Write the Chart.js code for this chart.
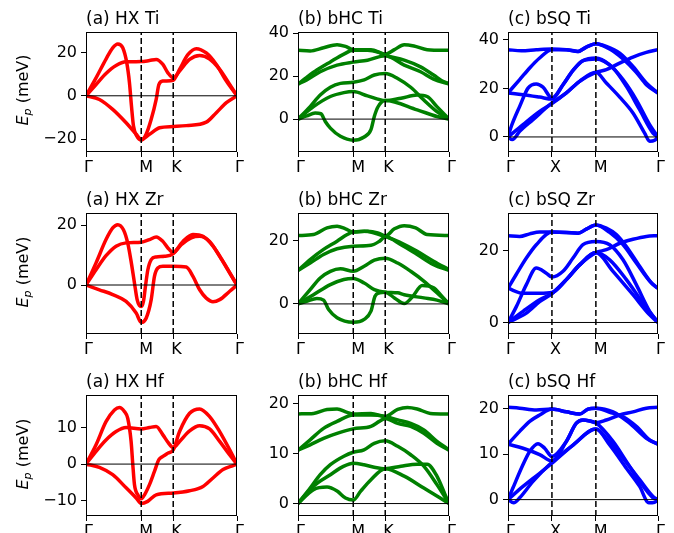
<!DOCTYPE html>
<html><head><meta charset="utf-8">
<script src="https://cdn.jsdelivr.net/npm/chart.js@4.4.1/dist/chart.umd.min.js"></script>
<style>
html,body{margin:0;padding:0;background:#fff;}
body{width:674px;height:533px;overflow:hidden;position:relative;font-family:'DejaVu Sans',sans-serif;}
.yl{position:absolute;width:120px;height:20px;line-height:20px;font-size:16px;text-align:center;transform:rotate(-90deg);white-space:nowrap;color:#000;font-family:'DejaVu Sans',sans-serif;}
.yl i{font-style:italic;}
.yl sub{font-size:11px;vertical-align:-3px;line-height:0;}
</style></head><body>
<script>
// ---- k-paths and tick labels ----
const hxPath = [0, 0.577, 0.911, 1.577];
const hxLabels = ['Γ', 'M', 'K', 'Γ'];
const sqPath = [0, 0.5, 1.0, 1.707];
const sqLabels = ['Γ', 'X', 'M', 'Γ'];

// ---- axis limits and ticks ----
const hxTiY = [-26, 29.5],  hxTiTicks = [-20, 0, 20];
const bhcTiY = [-15.3, 40.5], bhcTiTicks = [0, 20, 40];
const bsqTiY = [-6.2, 43.2], bsqTiTicks = [0, 20, 40];
const hxZrY = [-16.4, 24.1], hxZrTicks = [0, 20];
const bhcZrY = [-9.5, 28.7], bhcZrTicks = [0, 20];
const bsqZrY = [-3.2, 30.4], bsqZrTicks = [0, 20];
const hxHfY = [-14.2, 18.9], hxHfTicks = [-10, 0, 10];
const bhcHfY = [-2.5, 21.8], bhcHfTicks = [0, 10, 20];
const bsqHfY = [-3.6, 23], bsqHfTicks = [0, 10, 20];

// ---- phonon bands: [k, E_p (meV)] ----
const hxTi = [
 [[0,0],[0.105,8.3],[0.209,17],[0.279,22.2],[0.332,24],[0.384,22.2],[0.426,15.2],[0.454,6],[0.475,-4.8],[0.496,-14],[0.530,-18.6],[0.577,-20.5],[0.628,-17.8],[0.681,-10.9],[0.733,-1.7],[0.761,5.2],[0.803,6.8],[0.911,7.2],[0.977,12.2],[1.064,19],[1.152,21.8],[1.256,19.8],[1.361,14.5],[1.466,6.8],[1.577,0]],
 [[0,0],[0.105,5.2],[0.209,10.3],[0.314,14],[0.419,15.7],[0.577,15.8],[0.663,16.3],[0.733,16.8],[0.803,14.5],[0.855,10.6],[0.911,8.3],[0.977,11.4],[1.082,16.8],[1.187,18.6],[1.291,17],[1.396,12.2],[1.501,5.2],[1.577,0]],
 [[0,0],[0.140,-1.7],[0.279,-6.3],[0.419,-12.5],[0.524,-17.8],[0.577,-20.2],[0.663,-17.8],[0.768,-14.8],[0.911,-14.2],[1.047,-13.8],[1.256,-12.2],[1.361,-7.8],[1.466,-3.2],[1.577,0]]
];
const bhcTi = [
 [[0,0],[0.091,1.5],[0.179,2.8],[0.239,2.5],[0.285,-1.1],[0.338,-4.2],[0.443,-8],[0.577,-9.8],[0.691,-8.3],[0.762,-4.9],[0.797,1.2],[0.833,5.5],[0.911,8.6],[1.245,4.3],[1.451,1.2],[1.577,0]],
 [[0,0],[0.162,5.8],[0.338,10.5],[0.479,12.3],[0.577,12.8],[0.726,10.8],[0.911,8.6],[1.075,9.7],[1.245,11.2],[1.349,10.5],[1.451,5.8],[1.577,0]],
 [[0,0],[0.127,5.8],[0.232,11.2],[0.338,14.8],[0.443,16.6],[0.577,17.1],[0.691,18.2],[0.797,20.5],[0.911,21.2],[1.041,18.9],[1.177,14.8],[1.314,8.9],[1.451,3.5],[1.577,0]],
 [[0,16.3],[0.091,18.2],[0.232,22],[0.408,25.1],[0.577,26.5],[0.726,27.4],[0.911,29.5],[1.109,25.1],[1.280,22],[1.416,18.6],[1.577,16.3]],
 [[0,16.3],[0.091,19.4],[0.197,22.8],[0.338,26.6],[0.479,30.2],[0.577,32],[0.726,32],[0.833,31.2],[0.911,29.7],[1.109,27.4],[1.280,24.3],[1.416,20.5],[1.519,17.4],[1.577,16.6]],
 [[0,32],[0.127,31.7],[0.267,33.2],[0.408,34.6],[0.496,33.8],[0.577,32.3],[0.762,32.3],[0.911,30.2],[1.007,32.3],[1.109,34.6],[1.211,34],[1.349,32.3],[1.577,32]]
];
const bsqTi = [
 [[0,35.9],[0.152,35.5],[0.322,35.9],[0.5,36.2],[0.664,35.9],[0.797,35.2],[0.891,37],[1.0,38.4],[1.119,37.3],[1.271,34.5],[1.422,29],[1.574,22.2],[1.707,18.1]],
 [[0,18.1],[0.133,23.6],[0.247,28.4],[0.360,32.5],[0.5,35.9],[0.664,35.9],[0.797,35.2],[0.891,37],[1.0,38.4],[1.157,36.2],[1.309,32.1],[1.460,26.6],[1.574,21.5],[1.707,18.1]],
 [[0,18.1],[0.171,17.4],[0.360,16.4],[0.5,15.6],[0.626,21.5],[0.740,27.4],[0.853,31.4],[1.0,32.5],[1.157,29.7],[1.309,23.6],[1.460,15.3],[1.612,5.1],[1.707,0]],
 [[0,0],[0.038,4.4],[0.133,12.6],[0.228,20.1],[0.322,21.8],[0.398,20.5],[0.5,16],[0.626,21.5],[0.740,27.4],[0.853,31.4],[1.0,32.1],[1.195,28.4],[1.347,20.8],[1.498,11.2],[1.650,1.6],[1.707,0]],
 [[0,0],[0.049,-1.1],[0.133,2.3],[0.284,7.1],[0.5,14],[0.664,18.1],[0.815,22.9],[1.0,26.6],[1.119,22.2],[1.271,16.4],[1.422,9.9],[1.555,1.6],[1.612,-1.8],[1.669,-1.4],[1.707,0]],
 [[0,0],[0.171,5.1],[0.360,10.5],[0.5,13.7],[0.664,18.1],[0.815,22.9],[1.0,26.6],[1.119,27.7],[1.271,30.4],[1.422,32.9],[1.574,34.8],[1.707,35.9]]
];
const hxZr = [
 [[0,0],[0.105,7.4],[0.209,15.2],[0.279,19.1],[0.332,20.2],[0.391,18.5],[0.436,14],[0.471,7.9],[0.506,0.7],[0.534,-4.9],[0.558,-6.9],[0.577,-7.2],[0.600,-5.5],[0.621,-0.4],[0.646,5.1],[0.681,8.5],[0.733,9.4],[0.820,9.6],[0.911,10.5],[1.012,14.6],[1.117,16.9],[1.222,16.3],[1.326,13],[1.431,7.9],[1.577,0]],
 [[0,0],[0.105,5.1],[0.209,9.8],[0.314,13],[0.419,14.1],[0.577,14.3],[0.663,15.2],[0.733,16.1],[0.803,14.6],[0.855,12.4],[0.911,10.9],[0.995,13.5],[1.099,15.8],[1.187,16.3],[1.291,14.6],[1.396,9.6],[1.501,4],[1.577,0]],
 [[0,0],[0.140,-1.6],[0.279,-3.2],[0.419,-5.5],[0.524,-9.4],[0.577,-12.5],[0.628,-11.1],[0.681,-4.9],[0.715,2.9],[0.750,5.7],[0.803,6.3],[0.911,6.3],[1.047,6],[1.117,2.9],[1.187,-1.6],[1.256,-4.4],[1.326,-5.6],[1.396,-4.9],[1.501,-2.1],[1.577,0]]
];
const bhcZr = [
 [[0,0],[0.091,0.8],[0.197,1.7],[0.267,1.2],[0.320,-1.8],[0.408,-4.4],[0.577,-5.8],[0.691,-4.9],[0.762,-2.3],[0.804,2.4],[0.851,3.5],[0.911,3.7],[1.007,1.9],[1.109,0.1],[1.194,2.2],[1.297,5.8],[1.416,5.1],[1.502,2.4],[1.577,0]],
 [[0,0],[0.162,2.9],[0.338,6.1],[0.479,7.7],[0.577,8],[0.691,6.6],[0.797,4.5],[0.911,3.7],[1.041,3.5],[1.109,2.9],[1.314,1.9],[1.451,1.2],[1.577,0]],
 [[0,0],[0.127,4.5],[0.232,8.2],[0.338,10.3],[0.443,11.1],[0.577,10.3],[0.691,11.9],[0.797,13.8],[0.911,14.4],[1.041,12.9],[1.177,10.3],[1.314,7.2],[1.451,3.5],[1.577,0]],
 [[0,10.6],[0.127,12.9],[0.267,15.6],[0.408,17.4],[0.577,18.2],[0.762,18.5],[0.851,19.8],[0.911,21.2],[1.075,18.7],[1.245,15.6],[1.416,12.4],[1.577,10.6]],
 [[0,10.6],[0.127,14],[0.267,17.2],[0.408,19.8],[0.514,21.9],[0.577,22.7],[0.726,22.9],[0.833,22.4],[0.911,21.4],[1.075,19.3],[1.245,16.6],[1.416,13.5],[1.577,10.8]],
 [[0,21.6],[0.162,21.9],[0.303,24],[0.408,24.5],[0.496,23.7],[0.577,22.7],[0.691,22.9],[0.797,22.4],[0.911,21.4],[1.007,23.7],[1.109,24.7],[1.229,24],[1.349,21.9],[1.577,21.6]]
];
const bsqZr = [
 [[0,24.1],[0.133,23.9],[0.247,24.6],[0.360,25.1],[0.5,25.1],[0.664,25],[0.797,24.8],[0.891,25.9],[1.0,27.1],[1.119,26.2],[1.233,24.4],[1.347,21.1],[1.498,15.6],[1.650,10.5],[1.707,9.5]],
 [[0,9.5],[0.095,13.4],[0.209,17.9],[0.322,21.6],[0.5,25.1],[0.664,25],[0.797,24.8],[0.891,25.9],[1.0,27.1],[1.157,25],[1.309,21.6],[1.460,16.5],[1.612,11.5],[1.707,9.5]],
 [[0,0],[0.095,4.4],[0.209,10.5],[0.322,15.1],[0.436,13.7],[0.5,12.6],[0.626,14.2],[0.740,17.9],[0.853,21.6],[1.0,22.5],[1.157,21.6],[1.309,17.4],[1.460,10.5],[1.612,3.1],[1.707,0]],
 [[0,9.5],[0.171,8.1],[0.360,8.1],[0.5,8.3],[0.664,11.9],[0.815,16],[1.0,19.4],[1.195,14.2],[1.422,7.7],[1.612,2.1],[1.707,0]],
 [[0,0],[0.171,3.1],[0.360,6.3],[0.5,8.1],[0.664,11.9],[0.815,16],[1.0,19.4],[1.119,20.2],[1.271,22],[1.422,23.1],[1.574,23.9],[1.707,24.1]],
 [[0,0],[0.209,2.6],[0.360,5.8],[0.5,8],[0.664,11.9],[0.815,16],[1.0,19.4],[1.157,17.4],[1.347,11.9],[1.536,5.4],[1.707,0]]
];
const hxHf = [
 [[0,0],[0.105,5.3],[0.209,11.6],[0.297,14.8],[0.349,15.5],[0.401,14.4],[0.436,12.5],[0.471,6.2],[0.489,-0.2],[0.506,-5.6],[0.541,-8.4],[0.577,-9.5],[0.611,-8.4],[0.663,-5.6],[0.715,-2],[0.761,1.2],[0.803,2.1],[0.855,3],[0.911,3.9],[0.977,8.9],[1.082,13.9],[1.187,15.1],[1.291,13],[1.396,8.9],[1.501,3.9],[1.577,0]],
 [[0,0],[0.105,3.5],[0.209,6.6],[0.314,8.9],[0.419,10],[0.577,9.6],[0.663,10],[0.733,10.3],[0.803,8],[0.855,6],[0.911,4.5],[0.977,6.2],[1.082,9.1],[1.187,10.5],[1.291,9.6],[1.396,6.2],[1.501,2.5],[1.577,0]],
 [[0,0],[0.140,-0.9],[0.279,-2.9],[0.419,-6.5],[0.524,-9.3],[0.577,-10.8],[0.644,-10.2],[0.733,-8.4],[0.911,-7.9],[1.082,-7.3],[1.222,-6.1],[1.326,-3.8],[1.431,-1.5],[1.536,-0.4],[1.577,0]]
];
const bhcHf = [
 [[0,0],[0.162,2.8],[0.303,3.3],[0.408,2.5],[0.496,1.1],[0.577,0.7],[0.655,2.5],[0.762,4.8],[0.911,7],[1.109,5.5],[1.314,3.1],[1.485,1.1],[1.577,0]],
 [[0,0],[0.162,3.5],[0.338,5.8],[0.479,7.5],[0.577,8.1],[0.689,7.8],[0.796,7.3],[0.911,7],[1.075,7.5],[1.245,7.9],[1.349,7.9],[1.451,5.5],[1.536,1.8],[1.577,0]],
 [[0,0],[0.127,3.1],[0.232,5.8],[0.338,7.8],[0.479,9.5],[0.577,10.3],[0.689,10.8],[0.796,12.1],[0.911,12.6],[1.041,11.5],[1.177,9.8],[1.314,7.5],[1.451,3.8],[1.577,0]],
 [[0,10.7],[0.127,11.8],[0.267,13.1],[0.408,14.1],[0.577,15],[0.762,15.5],[0.849,16.5],[0.911,17.1],[1.041,16.1],[1.177,15.5],[1.314,14.1],[1.451,12.1],[1.577,10.7]],
 [[0,10.7],[0.127,12.8],[0.267,15.1],[0.408,16.5],[0.577,17.8],[0.762,17.8],[0.911,17.5],[1.041,16.8],[1.177,16.1],[1.314,14.8],[1.451,12.5],[1.577,10.8]],
 [[0,18],[0.162,18.1],[0.303,18.9],[0.408,19],[0.514,18.3],[0.577,18],[0.762,18.1],[0.911,17.5],[1.041,18.9],[1.143,19.3],[1.245,19],[1.382,18.1],[1.577,18]]
];
const bsqHf = [
 [[0,20.3],[0.133,20.1],[0.322,19.7],[0.5,19.9],[0.664,19.3],[0.815,18.8],[0.910,19.9],[1.0,20.1],[1.195,19.3],[1.384,16.8],[1.574,13.5],[1.707,12.2]],
 [[0,12.2],[0.133,15],[0.247,17.2],[0.360,18.6],[0.5,19.9],[0.664,19.3],[0.815,18.8],[0.910,19.9],[1.0,20.1],[1.157,19.2],[1.309,18.2],[1.460,16.1],[1.612,13.1],[1.707,12.2]],
 [[0,12.2],[0.171,11.3],[0.360,9.9],[0.5,8.5],[0.664,12.8],[0.778,16.8],[0.853,17.5],[0.929,17.3],[1.0,16.9],[1.119,17.5],[1.271,18.6],[1.422,19.3],[1.574,20.1],[1.707,20.3]],
 [[0,0],[0.057,2.6],[0.152,6.9],[0.247,10.6],[0.341,12.3],[0.417,11.3],[0.5,9.5],[0.664,12.8],[0.778,16.8],[0.853,17.5],[0.929,17.3],[1.0,16.9],[1.195,12.8],[1.347,8.4],[1.498,4],[1.650,0.4],[1.707,0]],
 [[0,0],[0.065,-0.7],[0.133,0.4],[0.284,4],[0.5,8.2],[0.740,12],[1.0,15.5],[1.157,12],[1.347,6.9],[1.498,2.9],[1.603,-0.7],[1.669,-0.6],[1.707,0]],
 [[0,0],[0.171,2.9],[0.360,5.8],[0.5,8],[0.740,12],[1.0,15.5],[1.119,13.5],[1.309,9.1],[1.498,4.4],[1.650,0.7],[1.707,0]]
];

// ---- layout (pixels) ----
const colL = [86, 298, 508], colW = [151, 151, 150];
const rowT = [32, 213, 395], rowH = [120, 121, 121];
const RED = '#ff0000', GREEN = '#008000', BLUE = '#0000ff';

const panels = [
 {row:0,col:0,title:'(a) HX Ti', bands:hxTi, path:hxPath, labels:hxLabels, ylim:hxTiY, yticks:hxTiTicks, color:RED},
 {row:0,col:1,title:'(b) bHC Ti', bands:bhcTi, path:hxPath, labels:hxLabels, ylim:bhcTiY, yticks:bhcTiTicks, color:GREEN},
 {row:0,col:2,title:'(c) bSQ Ti', bands:bsqTi, path:sqPath, labels:sqLabels, ylim:bsqTiY, yticks:bsqTiTicks, color:BLUE},
 {row:1,col:0,title:'(a) HX Zr', bands:hxZr, path:hxPath, labels:hxLabels, ylim:hxZrY, yticks:hxZrTicks, color:RED},
 {row:1,col:1,title:'(b) bHC Zr', bands:bhcZr, path:hxPath, labels:hxLabels, ylim:bhcZrY, yticks:bhcZrTicks, color:GREEN},
 {row:1,col:2,title:'(c) bSQ Zr', bands:bsqZr, path:sqPath, labels:sqLabels, ylim:bsqZrY, yticks:bsqZrTicks, color:BLUE},
 {row:2,col:0,title:'(a) HX Hf', bands:hxHf, path:hxPath, labels:hxLabels, ylim:hxHfY, yticks:hxHfTicks, color:RED},
 {row:2,col:1,title:'(b) bHC Hf', bands:bhcHf, path:hxPath, labels:hxLabels, ylim:bhcHfY, yticks:bhcHfTicks, color:GREEN},
 {row:2,col:2,title:'(c) bSQ Hf', bands:bsqHf, path:sqPath, labels:sqLabels, ylim:bsqHfY, yticks:bsqHfTicks, color:BLUE}
];

const framePlugin = {
  id: 'frame',
  afterDatasetsDraw(chart, args, opts) {
    const {ctx, chartArea: a} = chart;
    ctx.save();
    ctx.strokeStyle = '#000';
    ctx.lineWidth = 1;
    ctx.setLineDash([]);
    ctx.strokeRect(a.left + 0.5, a.top + 0.5, a.right - a.left - 1, a.bottom - a.top - 1);
    ctx.fillStyle = '#000';
    ctx.font = '17px "DejaVu Sans"';
    ctx.textAlign = 'left';
    ctx.textBaseline = 'alphabetic';
    ctx.fillText(opts.title, a.left, a.top - 8);
    ctx.restore();
  }
};

const fmt = v => v < 0 ? '\u2212' + Math.abs(v) : String(v);

function makePanel(p) {
  const L = colL[p.col], W = colW[p.col], T = rowT[p.row], H = rowH[p.row];
  const padL = 80, padT = 30, padR = 16, padB = 30;
  const cv = document.createElement('canvas');
  const cw = padL + W + padR, ch = padT + H + padB;
  cv.width = cw; cv.height = ch;
  cv.style.cssText = 'position:absolute;left:' + (L - padL) + 'px;top:' + (T - padT) + 'px;width:' + cw + 'px;height:' + ch + 'px';
  document.body.appendChild(cv);
  const xmax = p.path[p.path.length - 1];
  const ds = [];
  ds.push({data:[{x:0,y:0},{x:xmax,y:0}], borderColor:'#000', borderWidth:1, order:0});
  [p.path[1], p.path[2]].forEach(v => ds.push({data:[{x:v,y:p.ylim[0]},{x:v,y:p.ylim[1]}], borderColor:'#000', borderWidth:1.5, borderDash:[6,3], order:0}));
  p.bands.forEach(b => ds.push({data:b.map(([x,y]) => ({x, y})), borderColor:p.color, borderWidth:3.5, cubicInterpolationMode:'monotone', order:1}));
  new Chart(cv, {
    type: 'line',
    data: {datasets: ds.map(d => Object.assign({pointRadius:0, fill:false, clip:0, borderJoinStyle:'round', borderCapStyle:'butt'}, d))},
    options: {
      responsive:false, maintainAspectRatio:false, animation:false, devicePixelRatio:1, events:[],
      layout: {padding:{left:0, top:padT, right:padR, bottom:0}},
      plugins: {legend:{display:false}, tooltip:{enabled:false}, title:{display:false}, frame:{title:p.title}},
      scales: {
        x: {
          type:'linear', min:0, max:xmax,
          afterBuildTicks: s => { s.ticks = p.path.map(v => ({value:v})); },
          afterFit: s => { s.height = padB; },
          grid: {drawOnChartArea:false, drawTicks:true, tickLength:5, color:'#000', lineWidth:1},
          border: {display:false},
          ticks: {autoSkip:false, maxRotation:0, minRotation:0, padding:1, align:'start', labelOffset:-2, color:'#000',
                  font:{family:'DejaVu Sans', size:16}, callback:(v, i) => p.labels[i]}
        },
        y: {
          type:'linear', min:p.ylim[0], max:p.ylim[1],
          afterBuildTicks: s => { s.ticks = p.yticks.map(v => ({value:v})); },
          afterFit: s => { s.width = padL; },
          grid: {drawOnChartArea:false, drawTicks:true, tickLength:5, color:'#000', lineWidth:1},
          border: {display:false},
          ticks: {padding:4, color:'#000', font:{family:'DejaVu Sans', size:16}, callback: v => fmt(v)}
        }
      }
    },
    plugins: [framePlugin]
  });
}
panels.forEach(makePanel);

// y-axis labels (left column)
rowT.forEach((T, r) => {
  const d = document.createElement('div');
  d.className = 'yl';
  const cx = 23, cy = T + rowH[r] / 2 - 2;
  d.style.left = (cx - 60) + 'px';
  d.style.top = (cy - 10) + 'px';
  d.innerHTML = '<i>E</i><sub><i>p</i></sub> (meV)';
  document.body.appendChild(d);
});
</script>
</body></html>
